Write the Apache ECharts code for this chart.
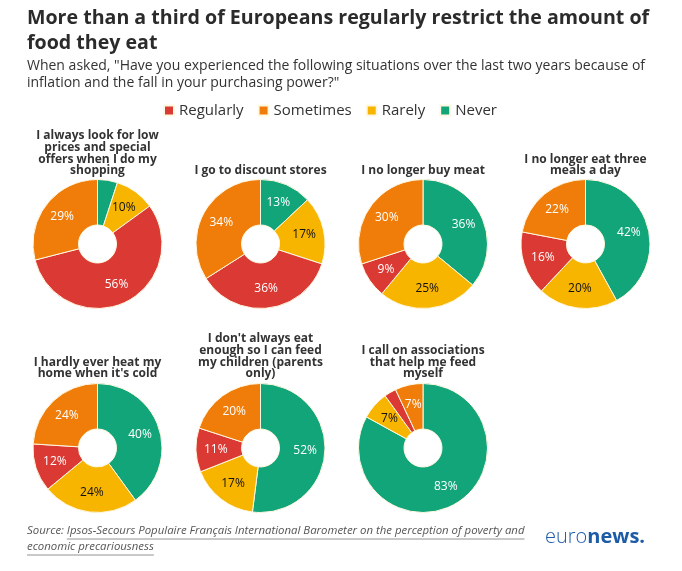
<!DOCTYPE html>
<html>
<head>
<meta charset="utf-8">
<script src="https://cdn.jsdelivr.net/npm/echarts@6/dist/echarts.min.js"></script>
<style>
html, body { margin: 0; padding: 0; background: #fff; }
#chart { width: 682px; height: 571px; }
</style>
</head>
<body>
<div id="chart"></div>
<script>
// answer categories, in the order the slices run clockwise from 12 o'clock
var answers = ['Never', 'Rarely', 'Regularly', 'Sometimes'];
var legendOrder = ['Regularly', 'Sometimes', 'Rarely', 'Never'];
var answerColors = ['#12a57a', '#f7b500', '#db3a34', '#f07d0a'];
var labelColors = ['#fff', '#111', '#fff', '#fff'];

var questions = [
	'I always look for low\nprices and special\noffers when I do my\nshopping',
	'I go to discount stores',
	'I no longer buy meat',
	'I no longer eat three\nmeals a day',
	'I hardly ever heat my\nhome when it\'s cold',
	'I don\'t always eat\nenough so I can feed\nmy children (parents\nonly)',
	'I call on associations\nthat help me feed\nmyself'
];

// % per question
var never = [5, 13, 36, 42, 40, 52, 83];
var rarely = [10, 17, 25, 20, 24, 17, 7];
var regularly = [56, 36, 9, 16, 12, 11, 3];
var sometimes = [29, 34, 30, 22, 24, 20, 7];

var font = '"Open Sans", "Noto Sans", sans-serif';
var colX = [97.5, 260.5, 423, 585.5];
var rowY = [244, 448];
var titleBottom = [394, 191];

var chart = echarts.init(document.getElementById('chart'));

var titles = [{
	text: 'More than a third of Europeans regularly restrict the amount of\nfood they eat',
	left: 27, top: 6, padding: 0,
	textStyle: { fontFamily: font, fontSize: 19.6, fontWeight: 'bold', color: '#2b2b2b', lineHeight: 25 }
}, {
	text: 'When asked, "Have you experienced the following situations over the last two years because of\ninflation and the fall in your purchasing power?"',
	left: 27, top: 58, padding: 0,
	textStyle: { fontFamily: font, fontSize: 14, fontWeight: 'normal', color: '#333', lineHeight: 17 }
}];

var series = [];
questions.forEach(function (q, i) {
	var col = i % 4, row = Math.floor(i / 4);
	titles.push({
		text: q,
		left: colX[col], bottom: titleBottom[row], textAlign: 'center', padding: 0,
		textStyle: { fontFamily: font, fontSize: 12, fontWeight: 'bold', color: '#333', lineHeight: 11.7 }
	});
	var vals = [never[i], rarely[i], regularly[i], sometimes[i]];
	series.push({
		type: 'pie',
		center: [colX[col], rowY[row]],
		radius: [19, 64.5],
		startAngle: 90,
		clockwise: true,
		silent: true,
		animation: false,
		itemStyle: { borderColor: '#fff8e0', borderWidth: 1 },
		label: { show: true, position: 'inside', formatter: '{c}%', fontFamily: font, fontSize: 12 },
		labelLine: { show: false },
		emphasis: { disabled: true },
		data: answers.map(function (a, k) {
			return {
				name: a, value: vals[k],
				itemStyle: { color: answerColors[k] },
				label: { color: labelColors[k] }
			};
		})
	});
});

// measure source text for the underline
var srcFont = 'italic 11.4px ' + font;
var ctx = document.createElement('canvas').getContext('2d');
ctx.font = srcFont;
var prefix = 'Source: ';
var link1 = 'Ipsos-Secours Populaire Français International Barometer on the perception of poverty and';
var link2 = 'economic precariousness';
var preW = ctx.measureText(prefix).width;
var l1W = ctx.measureText(link1).width;
var l2W = ctx.measureText(link2).width;

chart.setOption({
	backgroundColor: '#fff',
	title: titles,
	legend: {
		data: legendOrder,
		left: 163, top: 103, padding: 0,
		icon: 'rect', itemWidth: 10, itemHeight: 10, itemGap: 14,
		selectedMode: false,
		textStyle: { fontFamily: font, fontSize: 15, color: '#333' }
	},
	series: series,
	graphic: [
		{ type: 'text', left: 27, top: 525, style: { text: prefix, font: srcFont, fill: '#555' } },
		{ type: 'text', left: 27 + preW, top: 525, style: { text: link1, font: srcFont, fill: '#555' } },
		{ type: 'text', left: 27, top: 541, style: { text: link2, font: srcFont, fill: '#555' } },
		{ type: 'line', shape: { x1: 27 + preW, y1: 539, x2: 27 + preW + l1W, y2: 539 }, style: { stroke: '#777', lineWidth: 0.8 } },
		{ type: 'line', shape: { x1: 27, y1: 555, x2: 27 + l2W, y2: 555 }, style: { stroke: '#777', lineWidth: 0.8 } },
		{
			type: 'text', left: 545, top: 527,
			style: {
				text: '{a|euro}{b|news.}',
				rich: {
					a: { fontFamily: font, fontSize: 20, fontWeight: 300, fill: '#1c5ba6' },
					b: { fontFamily: font, fontSize: 20, fontWeight: 'bold', fill: '#1c5ba6' }
				}
			}
		}
	]
});
</script>
</body>
</html>
